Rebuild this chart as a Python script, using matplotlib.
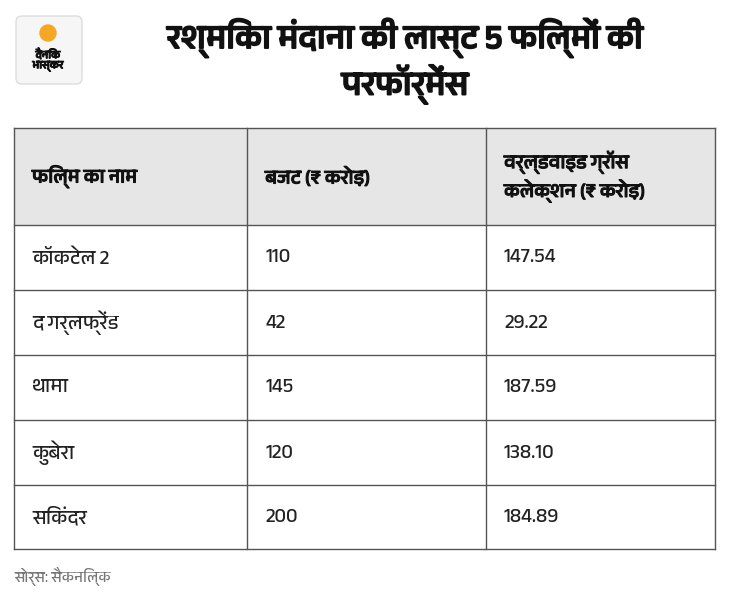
import matplotlib
matplotlib.use("Agg")
import matplotlib.pyplot as plt
import matplotlib.patheffects as pe
from matplotlib.patches import Rectangle, FancyBboxPatch
from matplotlib import font_manager

fams = [f.name for f in font_manager.fontManager.ttflist]
deva = [n for n in sorted(set(fams)) if "Devanagari" in n or "Lohit" in n or "Mukta" in n or "Hind" in n]
plt.rcParams["font.family"] = deva + ["Noto Sans", "DejaVu Sans"]

title_lines = ["रश्मिका मंदाना की लास्ट 5 फिल्मों की", "परफॉर्मेंस"]
headers = ["फिल्म का नाम", "बजट (₹ करोड़)", "वर्ल्डवाइड ग्रॉस\nकलेक्शन (₹ करोड़)"]
films = ["कॉकटेल 2", "द गर्लफ्रेंड", "थामा", "कुबेरा", "सिकंदर"]
budget = ["110", "42", "145", "120", "200"]
gross = ["147.54", "29.22", "187.59", "138.10", "184.89"]
source = "सोर्स: सैकनिल्क"

W, H = 730, 611
fig = plt.figure(figsize=(W / 100, H / 100), dpi=100)
ax = fig.add_axes([0, 0, 1, 1])
ax.set_xlim(0, W)
ax.set_ylim(H, 0)
ax.axis("off")


def bold(w):
    return [pe.withStroke(linewidth=w, foreground="#111111")]


# logo
ax.add_patch(FancyBboxPatch((16, 16), 66, 68, boxstyle="round,pad=0,rounding_size=6",
                            fc="#f6f6f6", ec="#dddddd", lw=1))
ax.add_patch(plt.Circle((48, 33), 8, color="#f5a623"))
ax.text(48, 60, "दैनिक\nभास्कर", ha="center", va="center", fontsize=8,
        color="#111111", linespacing=1.0, path_effects=bold(0.8))

for i, line in enumerate(title_lines):
    ax.text(405, 38 + i * 46, line, ha="center", va="center", fontsize=24,
            color="#111111", path_effects=bold(1.4))

cols = [14, 247, 486, 715]
rows = [128, 225, 290, 355, 420, 485, 549]
ax.add_patch(Rectangle((cols[0], rows[0]), cols[-1] - cols[0], rows[1] - rows[0],
                       fc="#e6e6e6", ec="none"))
for x in cols:
    ax.plot([x, x], [rows[0], rows[-1]], color="#555555", lw=1)
for y in rows:
    ax.plot([cols[0], cols[-1]], [y, y], color="#555555", lw=1)

for j, h in enumerate(headers):
    ax.text(cols[j] + 18, (rows[0] + rows[1]) / 2, h, ha="left", va="center",
            fontsize=14, color="#111111", linespacing=1.4, path_effects=bold(0.8))

for i in range(len(films)):
    yc = (rows[i + 1] + rows[i + 2]) / 2
    for j, v in enumerate([films[i], budget[i], gross[i]]):
        ax.text(cols[j] + 18, yc, v, ha="left", va="center", fontsize=14.5, color="#222222")

ax.text(14, 577, source, ha="left", va="center", fontsize=11, color="#777777")

fig.savefig("out.png", dpi=100)
